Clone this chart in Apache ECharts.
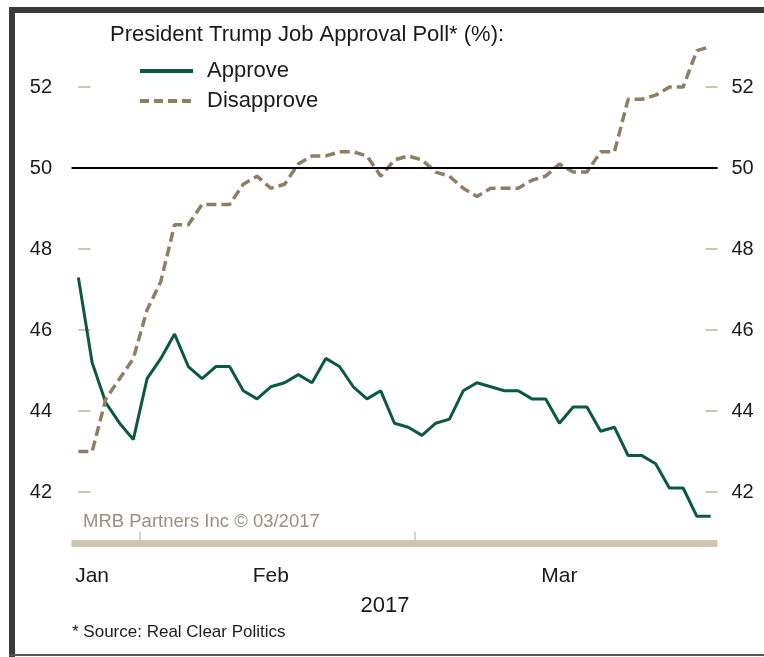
<!DOCTYPE html>
<html>
<head>
<meta charset="utf-8">
<script src="https://cdn.jsdelivr.net/npm/echarts@6/dist/echarts.min.js"></script>
<style>
html,body{margin:0;padding:0;background:#fff;}
#chart{width:764px;height:657px;}
</style>
</head>
<body>
<div id="chart"></div>
<script>
// Business days (RCP average), 2017
const dates = [
  '2017-01-25','2017-01-26','2017-01-27','2017-01-30','2017-01-31',
  '2017-02-01','2017-02-02','2017-02-03','2017-02-06','2017-02-07','2017-02-08','2017-02-09','2017-02-10',
  '2017-02-13','2017-02-14','2017-02-15','2017-02-16','2017-02-17','2017-02-20','2017-02-21','2017-02-22',
  '2017-02-23','2017-02-24','2017-02-27','2017-02-28',
  '2017-03-01','2017-03-02','2017-03-03','2017-03-06','2017-03-07','2017-03-08','2017-03-09','2017-03-10',
  '2017-03-13','2017-03-14','2017-03-15','2017-03-16','2017-03-17','2017-03-20','2017-03-21','2017-03-22',
  '2017-03-23','2017-03-24','2017-03-27','2017-03-28','2017-03-29','2017-03-30'
];
const approve = [
  47.3, 45.2, 44.2, 43.7, 43.3,
  44.8, 45.3, 45.9, 45.1, 44.8, 45.1, 45.1, 44.5,
  44.3, 44.6, 44.7, 44.9, 44.7, 45.3, 45.1, 44.6,
  44.3, 44.5, 43.7, 43.6,
  43.4, 43.7, 43.8, 44.5, 44.7, 44.6, 44.5, 44.5,
  44.3, 44.3, 43.7, 44.1, 44.1, 43.5, 43.6, 42.9,
  42.9, 42.7, 42.1, 42.1, 41.4, 41.4
];
const disapprove = [
  43.0, 43.0, 44.3, 44.8, 45.3,
  46.5, 47.2, 48.6, 48.6, 49.1, 49.1, 49.1, 49.6,
  49.8, 49.5, 49.6, 50.1, 50.3, 50.3, 50.4, 50.4,
  50.3, 49.8, 50.2, 50.3,
  50.2, 49.9, 49.8, 49.5, 49.3, 49.5, 49.5, 49.5,
  49.7, 49.8, 50.1, 49.9, 49.9, 50.4, 50.4, 51.7,
  51.7, 51.8, 52.0, 52.0, 52.9, 53.0
];
const yTicks = [42, 44, 46, 48, 50, 52];
const monthTickDates = ['2017-02-01', '2017-03-01'];
const monthLabelDates = ['2017-01-26', '2017-02-14', '2017-03-15'];
const monthLabelTexts = ['Jan', 'Feb', 'Mar'];
const refLine = 50;
const seriesNames = ['Approve', 'Disapprove'];
const titleText = 'President Trump Job Approval Poll* (%):';
const yearText = '2017';
const creditText = 'MRB Partners Inc \u00A9 03/2017';
const sourceText = '* Source: Real Clear Politics';

const FONT = "'Liberation Sans', Arial, sans-serif";
const GREEN = '#0b5a39';
const TAN = '#8c7f63';
const LIGHTTAN = '#cdc5b1';

// x positions: one slot per business day (index), ticks at month boundaries
const xTickValues = monthTickDates.map(d => dates.indexOf(d) - 0.5);
const xLabelValues = monthLabelDates.map(d => dates.indexOf(d));
const approveData = dates.map((d, i) => [i, approve[i]]);
const disapproveData = dates.map((d, i) => [i, disapprove[i]]);

const chart = echarts.init(document.getElementById('chart'), null, {renderer: 'canvas'});

function yAxisDef(pos, margin) {
  return {
    type: 'value', position: pos, min: 40.73, max: 53.458,
    axisLine: {show: false},
    splitLine: {show: false},
    axisTick: {show: true, inside: true, length: 12, customValues: yTicks,
      lineStyle: {color: LIGHTTAN, width: 2}},
    axisLabel: {customValues: yTicks, fontSize: 20, fontFamily: FONT, color: '#1a1a1a', margin: margin}
  };
}

chart.setOption({
  animation: false,
  backgroundColor: '#fff',
  grid: {left: 71.5, right: 46.5, top: 28, bottom: 113.5},
  legend: {
    orient: 'vertical', left: 138, top: 59, padding: 0,
    itemWidth: 53, itemHeight: 14, itemGap: 6,
    textStyle: {fontSize: 22, fontFamily: FONT, color: '#1a1a1a', lineHeight: 24, padding: [0, 0, 0, 9]},
    itemStyle: {opacity: 0},
    data: [
      {name: seriesNames[0], itemStyle: {opacity: 0}, lineStyle: {width: 4}},
      {name: seriesNames[1], itemStyle: {opacity: 0}, lineStyle: {width: 4, type: [9, 5]}}
    ]
  },
  xAxis: {
    type: 'value', min: -0.5, max: dates.length - 0.5,
    splitLine: {show: false},
    axisLine: {onZero: false, lineStyle: {color: LIGHTTAN, width: 7, cap: 'butt'}},
    axisTick: {show: true, inside: true, length: 12, customValues: xTickValues,
      lineStyle: {color: LIGHTTAN, width: 1.5}},
    axisLabel: {
      customValues: xLabelValues,
      formatter: function (v) { return monthLabelTexts[xLabelValues.indexOf(Math.round(v))]; },
      fontSize: 21, fontFamily: FONT, color: '#1a1a1a', margin: 22
    }
  },
  yAxis: [yAxisDef('left', 19.5), yAxisDef('right', 14)],
  series: [
    {
      name: seriesNames[0], type: 'line', data: approveData, symbol: 'none', z: 3,
      lineStyle: {color: GREEN, width: 3}, itemStyle: {color: GREEN},
      markLine: {
        silent: true, symbol: 'none', label: {show: false},
        lineStyle: {color: '#000', width: 2, type: 'solid'},
        data: [{yAxis: refLine}]
      }
    },
    {
      name: seriesNames[1], type: 'line', data: disapproveData, symbol: 'none', z: 4,
      lineStyle: {color: TAN, width: 3.5, type: [10, 5]}, itemStyle: {color: TAN}
    }
  ],
  graphic: [
    {type: 'rect', shape: {x: 9, y: 7, width: 760, height: 6}, style: {fill: '#3a3a3a'}, silent: true},
    {type: 'rect', shape: {x: 9, y: 7, width: 6, height: 650}, style: {fill: '#3a3a3a'}, silent: true},
    {type: 'rect', shape: {x: 9, y: 654, width: 760, height: 2}, style: {fill: '#555'}, silent: true},
    {type: 'text', x: 110, y: 35, style: {text: titleText, font: '22px ' + FONT, fill: '#1a1a1a', textVerticalAlign: 'middle'}},
    {type: 'text', x: 83, y: 522, style: {text: creditText, font: '18.5px ' + FONT, fill: '#9a8f80', textVerticalAlign: 'middle'}},
    {type: 'text', x: 385, y: 606, style: {text: yearText, font: '22px ' + FONT, fill: '#1a1a1a', textAlign: 'center', textVerticalAlign: 'middle'}},
    {type: 'text', x: 72, y: 632, style: {text: sourceText, font: '17px ' + FONT, fill: '#1a1a1a', textVerticalAlign: 'middle'}}
  ]
});
</script>
</body>
</html>
